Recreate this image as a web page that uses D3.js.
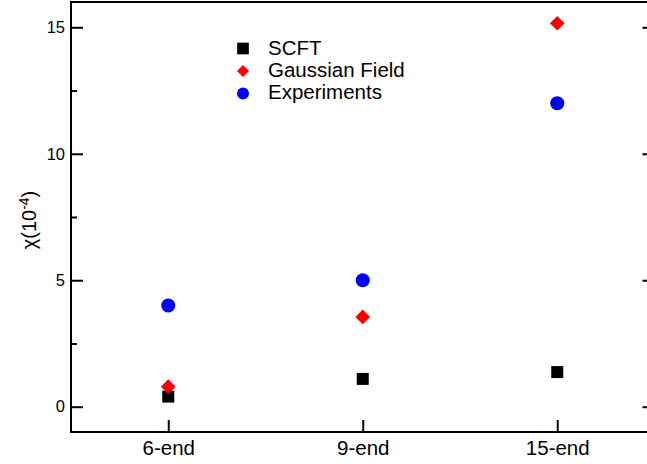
<!DOCTYPE html>
<html>
<head>
<meta charset="utf-8">
<script src="https://cdn.jsdelivr.net/npm/d3@7/dist/d3.min.js"></script>
<style>
  html, body { margin: 0; padding: 0; background: #fff; }
  svg { display: block; font-family: "Liberation Sans", Arial, Helvetica, sans-serif; }
</style>
</head>
<body>
<svg id="chart" width="647" height="464"></svg>
<script>
// Susceptibility chi (in units of 1e-4) for three end-functionalised chains
const categories = ["6-end", "9-end", "15-end"];
const scft = [0.40, 1.10, 1.37];
const gaussianField = [0.79, 3.55, 15.16];
const experiments = [4.0, 5.0, 12.0];
const yMajorTicks = [0, 5, 10, 15];
const yMinorTicks = [2.5, 7.5, 12.5];
const seriesNames = ["SCFT", "Gaussian Field", "Experiments"];

const svg = d3.select("#chart");

const plotLeft = 71, plotRight = 654.5, plotTop = 2, plotBottom = 432;

const x = d3.scaleLinear().domain([0.5, categories.length + 0.5]).range([plotLeft, plotRight]);
const y = d3.scaleLinear().domain([-1, 16]).range([plotBottom, plotTop]);

// frame
svg.append("rect")
  .attr("x", plotLeft).attr("y", plotTop)
  .attr("width", plotRight - plotLeft).attr("height", plotBottom - plotTop)
  .attr("fill", "none").attr("stroke", "#000").attr("stroke-width", 2);

function styleAxis(g, fontSize) {
  g.select(".domain").remove();
  g.selectAll(".tick line").attr("stroke", "#000").attr("stroke-width", 2);
  g.selectAll(".tick text").attr("fill", "#000").attr("font-size", fontSize)
    .attr("font-family", "Liberation Sans, Arial, sans-serif");
}

// left axis: major with labels, minor without
svg.append("g").attr("transform", `translate(${plotLeft},0)`)
  .call(d3.axisLeft(y).tickValues(yMajorTicks).tickSizeInner(-12).tickSizeOuter(0).tickPadding(6).tickFormat(d3.format("d")))
  .call(g => styleAxis(g, 16.5));
svg.append("g").attr("transform", `translate(${plotLeft},0)`)
  .call(d3.axisLeft(y).tickValues(yMinorTicks).tickSizeInner(-6).tickSizeOuter(0).tickFormat(""))
  .call(g => styleAxis(g, 16.5));

// right axis mirror ticks
svg.append("g").attr("transform", `translate(${plotRight},0)`)
  .call(d3.axisRight(y).tickValues(yMajorTicks).tickSizeInner(-12).tickSizeOuter(0).tickFormat(""))
  .call(g => styleAxis(g, 16.5));
svg.append("g").attr("transform", `translate(${plotRight},0)`)
  .call(d3.axisRight(y).tickValues(yMinorTicks).tickSizeInner(-6).tickSizeOuter(0).tickFormat(""))
  .call(g => styleAxis(g, 16.5));

// bottom axis with category labels
svg.append("g").attr("transform", `translate(0,${plotBottom})`)
  .call(d3.axisBottom(x).tickValues(d3.range(1, categories.length + 1)).tickSizeInner(-12).tickSizeOuter(0).tickPadding(8)
    .tickFormat(d => categories[d - 1]))
  .call(g => styleAxis(g, 20.5));

// y-axis title
const yTitle = svg.append("text")
  .attr("transform", "translate(36,220) rotate(-90)")
  .attr("text-anchor", "middle")
  .attr("font-size", 20)
  .attr("fill", "#000");
yTitle.append("tspan").text("\u03C7(10");
yTitle.append("tspan").attr("dy", "-0.5em").attr("font-size", 14).text("-4");
yTitle.append("tspan").attr("dy", "0.35em").text(")");

// markers
const squarePath = s => d3.symbol(d3.symbolSquare, s * s)();
const circlePath = r => d3.symbol(d3.symbolCircle, Math.PI * r * r)();

const markers = [
  { values: scft, path: squarePath(12), rotate: 0, color: "#000000", legendPath: squarePath(11.7) },
  { values: gaussianField, path: squarePath(10.4), rotate: 45, color: "#ff0000", legendPath: squarePath(8.5) },
  { values: experiments, path: circlePath(7), rotate: 0, color: "#0000ff", legendPath: circlePath(6) }
];

markers.forEach(m => {
  svg.append("g").selectAll("path")
    .data(m.values)
    .join("path")
    .attr("d", m.path)
    .attr("fill", m.color)
    .attr("transform", (d, i) => `translate(${x(i + 1)},${y(d)}) rotate(${m.rotate})`);
});

// legend
const legend = svg.append("g");
const legendRows = [48.5, 71, 93.5];
const legendBaselines = [55, 77, 99];
markers.forEach((m, i) => {
  legend.append("path")
    .attr("d", m.legendPath)
    .attr("fill", m.color)
    .attr("transform", `translate(243,${legendRows[i]}) rotate(${m.rotate})`);
  legend.append("text")
    .attr("x", 268).attr("y", legendBaselines[i])
    .attr("font-size", 20.5).attr("fill", "#000")
    .text(seriesNames[i]);
});
</script>
</body>
</html>
